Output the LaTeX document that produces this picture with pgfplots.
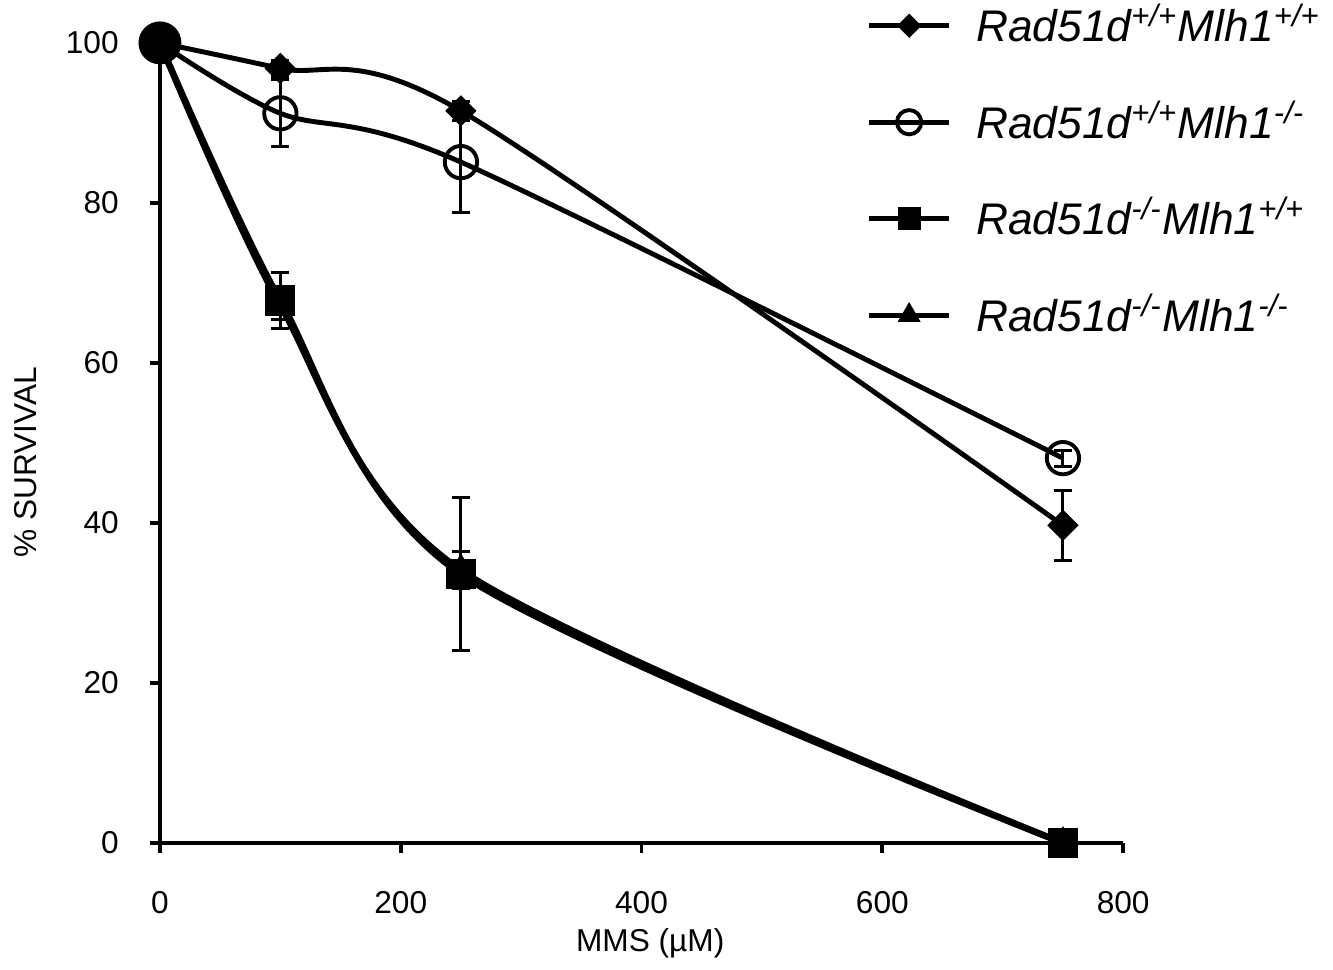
\documentclass[border=0pt]{standalone}
\usepackage{fontspec}
\setmainfont{Liberation Sans}
\usepackage{pgfplots}
\pgfplotsset{compat=1.18}

\begin{document}
\begin{tikzpicture}
% frame matching the reference proportions (1333 x 970 px, 1px = 0.2845pt)
\path[use as bounding box] (-45.5pt,-36.1pt) rectangle (333.7pt,239.8pt);
\begin{axis}[
    scale only axis,
    width=274pt, height=227.6pt,
    xmin=0, xmax=800, ymin=0, ymax=100,
    axis lines*=left,
    clip=false,
    axis line style={line width=1.1pt, black},
    xtick={0,200,400,600,800},
    ytick={0,20,40,60,80,100},
    tick align=outside,
    major tick length=2.8pt,
    tick style={line width=1.1pt, black},
    /pgf/number format/assume math mode=true,
    ticklabel style={font=\fontsize{9}{10}\selectfont},
    xticklabel style={yshift=-7.4pt},
    yticklabel style={xshift=-5.4pt},
    xlabel={MMS (µM)},
    ylabel={\% SURVIVAL},
    label style={font=\fontsize{9}{10}\selectfont},
    xlabel style={at={(axis description cs:0.509,-0.125)}, anchor=center},
    ylabel style={at={(axis description cs:-0.139,0.476)}, anchor=center},
    every axis plot/.append style={line width=1.4pt, smooth},
    error bars/error bar style={line width=0.85pt, solid, black},
    error bars/error mark options={rotate=90, mark size=2.6pt, line width=0.85pt, black},
    legend style={
        draw=none, fill=none, inner sep=0pt,
        at={(0.733,1.058)}, anchor=north west,
        font=\fontsize{12.6}{14}\selectfont\itshape,
        row sep=11.2pt,
        /tikz/every odd column/.append style={column sep=5pt},
    },
    legend cell align=left,
    legend image code/.code={
        \draw[mark repeat=2, mark phase=2, line width=1.4pt,
              every mark/.append style={scale=0.75}]
        plot coordinates {(0cm,0cm) (0.4cm,0cm) (0.8cm,0cm)};
    },
]
% Rad51d+/+ Mlh1+/+  (diamonds)
\addplot[black, mark=square*, mark size=2.85pt,
    mark options={solid, fill=black, rotate=45, line width=0.6pt},
    error bars/.cd, y dir=both, y explicit] coordinates {
    (0,100) +- (0,0)
    (100,96.8) +- (0,1.0)
    (250,91.5) +- (0,1.2)
    (750,39.7) +- (0,4.35)
};
\addlegendentry{Rad51d\textsuperscript{+/+}Mlh1\textsuperscript{+/+}}
% Rad51d+/+ Mlh1-/-  (open circles)
\addplot[black, mark=o, mark size=4.6pt,
    mark options={solid, fill=none, line width=1.1pt},
    error bars/.cd, y dir=both, y explicit] coordinates {
    (0,100) +- (0,0)
    (100,91.2) +- (0,4.2)
    (250,85.1) +- (0,6.3)
    (750,48.1) +- (0,1.0)
};
\addlegendentry{Rad51d\textsuperscript{+/+}Mlh1\textsuperscript{-/-}}
% Rad51d-/- Mlh1+/+  (squares)
\addplot[black, line width=1.8pt, mark=square*, mark size=4pt,
    mark options={solid, fill=black, rounded corners=1pt, line width=0.6pt},
    error bars/.cd, y dir=both, y explicit] coordinates {
    (0,100) +- (0,0)
    (100,67.8) +- (0,3.5)
    (250,33.6) +- (0,9.6)
    (750,0) +- (0,0)
};
\addlegendentry{Rad51d\textsuperscript{-/-}Mlh1\textsuperscript{+/+}}
% Rad51d-/- Mlh1-/-  (triangles)
\addplot[black, line width=1.8pt, mark=triangle*, mark size=4.2pt,
    mark options={solid, fill=black, line width=0.6pt},
    error bars/.cd, y dir=both, y explicit] coordinates {
    (0,100) +- (0,0)
    (100,67.2) +- (0,1.8)
    (250,34.1) +- (0,2.3)
    (750,0) +- (0,0)
};
\addlegendentry{Rad51d\textsuperscript{-/-}Mlh1\textsuperscript{-/-}}
% shared starting point
\addplot[forget plot, only marks, mark=*, mark size=5.4pt, black] coordinates {(0,100)};
\end{axis}
\end{tikzpicture}
\end{document}
